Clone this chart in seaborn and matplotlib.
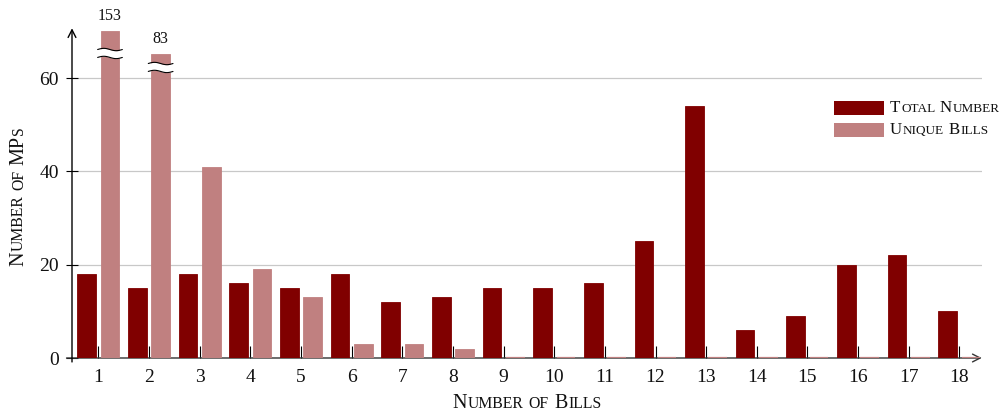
import numpy as np
import pandas as pd
import matplotlib
matplotlib.use("Agg")
import matplotlib.pyplot as plt
import matplotlib.transforms as mtransforms
from matplotlib.font_manager import FontProperties
from matplotlib.textpath import TextToPath
from matplotlib.offsetbox import AnchoredOffsetbox, DrawingArea, HPacker, VPacker, TextArea
from matplotlib.patches import Rectangle
import seaborn as sns

# ---- data -------------------------------------------------------------
bills = list(range(1, 19))
total_number = [18, 15, 18, 16, 15, 18, 12, 13, 15, 15, 16, 25, 54, 6, 9, 20, 22, 10]
unique_bills = [153, 83, 41, 19, 13, 3, 3, 2, 0, 0, 0, 0, 0, 0, 0, 0, 0, 0]
series_names = ["Total Number", "Unique Bills"]
y_ticks = [0, 20, 40, 60]
x_title = "Number of Bills"
y_title = "Number of MPs"

# ---- style ------------------------------------------------------------
DARK = "#800000"
LIGHT = "#c08080"
INK = "#111111"
SERIF = "Liberation Serif"
TICK_SIZE = 14
TITLE_SIZE = 14.5
LEGEND_SIZE = 12.2
VALUE_SIZE = 11.5

sns.set_style("white")
plt.rcParams["font.family"] = [SERIF, "DejaVu Serif"]

# values above the linear range are squeezed into a short band on top
LINEAR_TOP = 60.0
SQUEEZE = 1.15
POWER = 0.48


def squeeze(v):
    v = np.asarray(v, dtype=float)
    over = np.clip(v - LINEAR_TOP, 0, None)
    return np.where(v > LINEAR_TOP, LINEAR_TOP + SQUEEZE * over ** POWER, v)


def unsqueeze(d):
    d = np.asarray(d, dtype=float)
    over = np.clip(d - LINEAR_TOP, 0, None)
    return np.where(d > LINEAR_TOP, LINEAR_TOP + (over / SQUEEZE) ** (1 / POWER), d)


# ---- small caps helpers -------------------------------------------------
_ttp = TextToPath()
CAPS_RATIO = 0.78


def caps_runs(word, size):
    runs = []
    for ch in word:
        sz = size * CAPS_RATIO if ch.islower() else size
        if runs and runs[-1][1] == sz:
            runs[-1][0] += ch.upper()
        else:
            runs.append([ch.upper(), sz])
    return runs


def ink_width(s, size):
    fp = FontProperties(family=SERIF, size=size)
    return _ttp.get_text_width_height_descent(s, fp, ismath=False)[0]


def smallcaps_text(fig, x, y, text, size, rotation=0):
    pieces = []
    cursor = 0.0
    for wi, word in enumerate(text.split(" ")):
        if wi:
            cursor += size * 0.25
        for ri, (s, sz) in enumerate(caps_runs(word, size)):
            if ri:
                cursor += size * 0.05
            pieces.append((s, sz, cursor))
            cursor += ink_width(s, sz)
    start = -cursor / 2
    for s, sz, off in pieces:
        d = start + off
        dx, dy = (d, 0) if rotation == 0 else (0, d)
        tr = mtransforms.offset_copy(fig.transFigure, fig=fig, x=dx, y=dy, units="points")
        fig.text(x, y, s, fontsize=sz, family=SERIF, color=INK, rotation=rotation,
                 rotation_mode="anchor", ha="left", va="baseline", transform=tr)


def smallcaps_box(text, size):
    words = []
    for word in text.split(" "):
        parts = [TextArea(s, textprops=dict(fontsize=sz, family=SERIF, color=INK))
                 for s, sz in caps_runs(word, size)]
        words.append(HPacker(children=parts, pad=0, sep=size * 0.05, align="baseline"))
    return HPacker(children=words, pad=0, sep=size * 0.25, align="baseline")


# ---- figure -------------------------------------------------------------
W, H = 1002, 415
fig = plt.figure(figsize=(W / 100, H / 100), dpi=100)
ax = fig.add_axes([72 / W, 57 / H, (981.7 - 72) / W, (358 - 28.3) / H])

df = pd.DataFrame({
    "bills": bills * 2,
    "count": total_number + unique_bills,
    "series": [series_names[0]] * len(bills) + [series_names[1]] * len(bills),
})
palette = [DARK, LIGHT]
sns.barplot(data=df, x="bills", y="count", hue="series", order=bills,
            hue_order=series_names, palette=palette, saturation=1,
            width=0.92, gap=0.2, legend=False, ax=ax, zorder=1)

# thin outline in the fill colour; empty bars remain visible as a stroke on the baseline
for container, color in zip(ax.containers, palette):
    for patch in container:
        patch.set_edgecolor(color)
        patch.set_linewidth(0.6 if patch.get_height() > 0 else 1.6)
        patch.set_zorder(1.2 if patch.get_height() > 0 else 1.1)

ax.set_yscale("function", functions=(squeeze, unsqueeze))
ax.set_ylim(0, float(unsqueeze(70.7)))
ax.set_xlim(-0.52, 17.44)
ax.set_yticks(y_ticks)
ax.set_xlabel("")
ax.set_ylabel("")

ax.set_axisbelow(True)
ax.yaxis.grid(True, color="#c8c8c8", linewidth=0.9)
ax.xaxis.grid(False)
for sp in ax.spines.values():
    sp.set_visible(False)

ax.tick_params(axis="y", direction="inout", length=9, width=0.8, color="black",
               pad=5, labelsize=TICK_SIZE, labelcolor=INK, left=True)
ax.tick_params(axis="x", direction="in", length=9, width=0.8, color="black",
               pad=8, labelsize=TICK_SIZE, labelcolor=INK, bottom=True)

# axis lines with arrow heads
arrow = dict(arrowstyle="->,head_length=0.55,head_width=0.28", lw=1.0,
             color="black", shrinkA=0, shrinkB=0)
ax.annotate("", xy=(1.0, 0), xytext=(-0.006, 0), xycoords="axes fraction",
            arrowprops=dict(arrow, color="#333333"), annotation_clip=False, zorder=0.8)
ax.annotate("", xy=(0, 1.0), xytext=(0, -0.012), xycoords="axes fraction",
            arrowprops=arrow, annotation_clip=False, zorder=0.8)

# broken bars: value labels and break marks
BREAK_LEVELS = [65.3, 62.3]
BREAK_GAP = 1.7
WAVE_AMP = 0.25
t = np.linspace(-1, 1, 80)
broken = [(p, v) for p, v in zip(ax.containers[1], unique_bills) if v > LINEAR_TOP]
for (patch, value), level in zip(broken, BREAK_LEVELS):
    xc = patch.get_x() + patch.get_width() / 2
    ax.annotate(f"{value}", xy=(xc, value), xytext=(0, 8), textcoords="offset points",
                ha="center", va="baseline", fontsize=VALUE_SIZE, color=INK,
                annotation_clip=False)
    half = patch.get_width() / 2 + 0.06
    xs = xc + half * t
    wob = -WAVE_AMP * np.sin(np.pi * t)
    lo = unsqueeze(level - BREAK_GAP / 2 + wob)
    hi = unsqueeze(level + BREAK_GAP / 2 + wob)
    ax.fill_between(xs, lo, hi, color="white", linewidth=0, zorder=3)
    ax.plot(xs, lo, color="black", lw=0.8, zorder=4)
    ax.plot(xs, hi, color="black", lw=0.8, zorder=4)

# legend
rows = []
for name, color in zip(series_names, palette):
    da = DrawingArea(36, 10, 0, 0)
    da.add_artist(Rectangle((0, 0), 36, 10, facecolor=color, edgecolor="none"))
    rows.append(HPacker(children=[da, smallcaps_box(name, LEGEND_SIZE)],
                        pad=0, sep=4.3, align="center"))
legend_box = VPacker(children=rows, pad=0, sep=4.5, align="left")
ax.add_artist(AnchoredOffsetbox(loc="upper left", child=legend_box, pad=0, borderpad=0,
                                frameon=False, bbox_to_anchor=(834 / W, 1 - 100 / H),
                                bbox_transform=fig.transFigure))

# axis titles
smallcaps_text(fig, 527 / W, 1 - 408 / H, x_title, TITLE_SIZE)
smallcaps_text(fig, 23 / W, 1 - 196 / H, y_title, TITLE_SIZE, rotation=90)

fig.savefig("out.png", dpi=100)
